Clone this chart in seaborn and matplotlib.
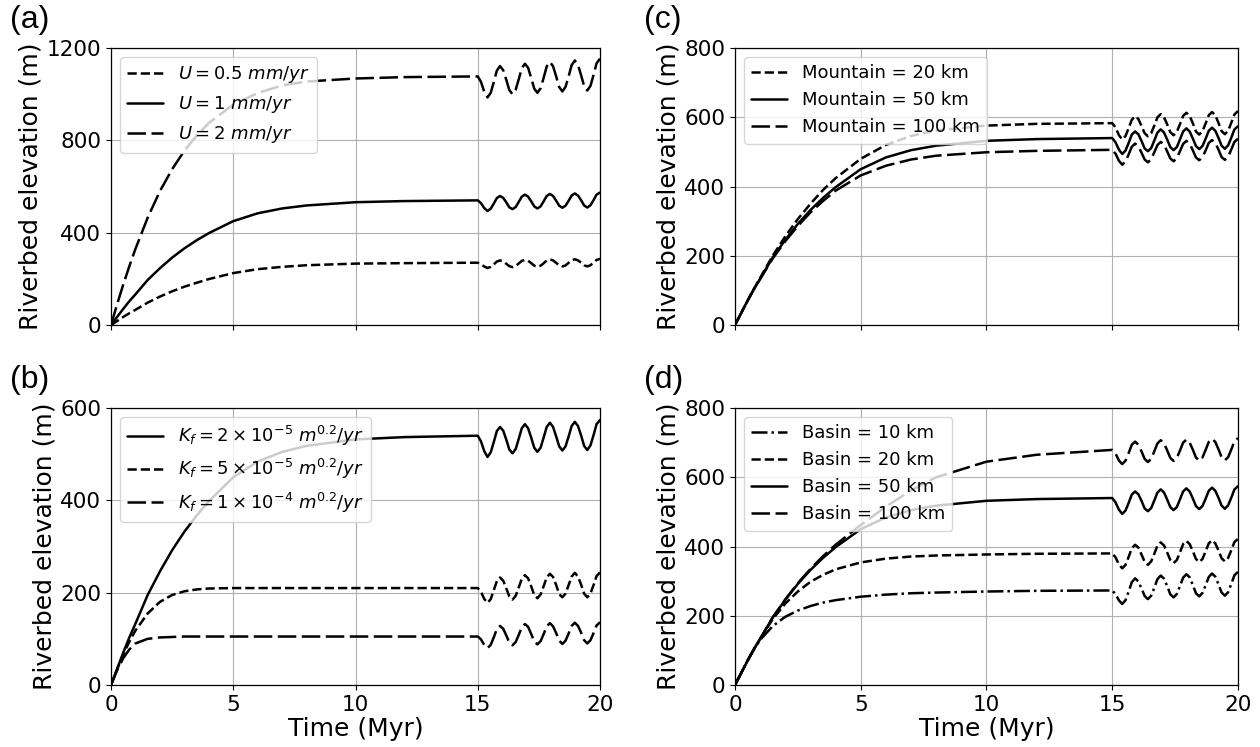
import matplotlib
matplotlib.use("Agg")
import matplotlib.pyplot as plt
import seaborn as sns

# time samples (Myr): growth phase, then the oscillating phase after 15 Myr
t_rise = [0, 0.25, 0.5, 0.75, 1, 1.5, 2, 2.5, 3, 3.5, 4, 5, 6, 7, 8, 10, 12, 15]
t_osc = [15.13, 15.27, 15.40, 15.53, 15.66, 15.78, 15.91, 16.04, 16.17, 16.29,
         16.42, 16.55, 16.68, 16.80, 16.93, 17.06, 17.19, 17.31, 17.44, 17.57,
         17.70, 17.82, 17.95, 18.08, 18.21, 18.33, 18.46, 18.59, 18.72, 18.84,
         18.97, 19.10, 19.23, 19.35, 19.48, 19.61, 19.74, 19.86, 20.00]

# reference run (U = 1 mm/yr, Kf = 2e-5, mountain 50 km, basin 50 km)
ref_rise = [0, 35, 70, 103, 133, 195, 246, 292, 332, 367, 398, 450, 484, 505, 518, 532, 537, 540]
ref_osc = [528, 506, 494, 504, 527, 550, 559, 551, 531, 510, 502, 511, 534, 556, 565, 556,
           535, 514, 505, 514, 537, 559, 568, 559, 538, 517, 508, 517, 539, 561, 570, 561,
           540, 518, 509, 519, 542, 565, 574]

# (a) uplift rate
u05_rise = [0, 17, 35, 51, 66, 97, 123, 146, 166, 183, 199, 225, 242, 252, 259, 266, 268, 270]
u05_osc = [264, 253, 247, 252, 263, 275, 280, 276, 265, 255, 251, 256, 267, 278, 282, 278,
           268, 257, 252, 257, 268, 280, 284, 280, 269, 258, 254, 258, 270, 280, 285, 280,
           270, 259, 254, 259, 271, 282, 287]
u2_rise = [0, 90, 175, 255, 330, 465, 580, 675, 755, 820, 875, 955, 1005, 1038, 1055, 1068, 1074, 1077]
u2_osc = [1054, 1009, 986, 1006, 1054, 1102, 1122, 1104, 1061, 1018, 1000, 1019, 1066, 1113,
          1132, 1114, 1069, 1024, 1006, 1026, 1073, 1120, 1140, 1121, 1076, 1031, 1012, 1032,
          1079, 1126, 1146, 1127, 1081, 1035, 1016, 1036, 1085, 1134, 1154]

# (b) erodibility
kf5_rise = [0, 34, 66, 94, 118, 155, 180, 195, 203, 207, 209, 210, 210, 210, 210, 210, 210, 210]
kf5_osc = [202, 186, 178, 186, 206, 225, 233, 226, 209, 192, 185, 193, 212, 230, 238, 231,
           213, 195, 188, 196, 215, 233, 241, 234, 216, 197, 190, 198, 217, 235, 243, 235,
           217, 198, 190, 198, 217, 236, 244]
kf10_rise = [0, 32, 58, 77, 90, 100, 103, 104, 105, 105, 105, 105, 105, 105, 105, 105, 105, 105]
kf10_osc = [99, 86, 80, 87, 104, 121, 128, 122, 107, 92, 86, 93, 109, 125, 132, 126,
            110, 94, 88, 95, 111, 127, 134, 127, 112, 96, 89, 96, 112, 128, 135, 128,
            113, 97, 90, 97, 113, 129, 136]

# (c) mountain length
m20_rise = [0, 35, 70, 104, 136, 200, 256, 306, 350, 390, 424, 480, 520, 546, 562, 576, 581, 583]
m20_osc = [571, 548, 536, 546, 570, 593, 603, 595, 574, 554, 545, 554, 577, 600, 609, 600,
           579, 557, 548, 558, 581, 604, 613, 604, 582, 559, 550, 560, 583, 606, 615, 606,
           583, 560, 551, 561, 585, 608, 618]
m100_rise = [0, 35, 70, 103, 133, 192, 242, 286, 325, 358, 388, 432, 460, 478, 489, 499, 503, 506]
m100_osc = [495, 474, 463, 472, 494, 515, 524, 516, 497, 478, 470, 479, 500, 520, 529, 521,
            501, 481, 473, 482, 503, 523, 532, 524, 504, 484, 476, 485, 505, 526, 534, 526,
            506, 485, 477, 486, 508, 529, 538]

# (d) basin length
b10_rise = [0, 35, 70, 103, 130, 170, 197, 215, 228, 238, 245, 255, 261, 265, 267, 270, 272, 273]
b10_osc = [263, 244, 234, 245, 271, 297, 308, 299, 278, 257, 248, 258, 282, 306, 316, 307,
           285, 262, 253, 263, 287, 310, 320, 311, 288, 265, 256, 266, 289, 312, 322, 313,
           290, 267, 258, 268, 293, 317, 327]
b20_rise = [0, 35, 70, 103, 133, 190, 235, 270, 298, 318, 334, 354, 365, 371, 374, 377, 379, 380]
b20_osc = [369, 348, 337, 347, 371, 395, 405, 397, 376, 356, 347, 357, 380, 403, 412, 403,
           382, 361, 352, 361, 384, 407, 416, 407, 386, 364, 355, 364, 387, 409, 418, 409,
           388, 366, 357, 367, 390, 413, 422]
b100_rise = [0, 35, 70, 103, 133, 195, 247, 294, 335, 372, 405, 462, 515, 562, 600, 645, 665, 679]
b100_osc = [669, 648, 638, 648, 671, 694, 703, 694, 674, 653, 644, 653, 676, 698, 707, 698,
            677, 656, 647, 656, 678, 700, 709, 700, 679, 657, 648, 657, 680, 702, 711, 702,
            680, 658, 649, 658, 681, 704, 713]

SOLID = "-"
DASH = (0, (3.7, 1.6))
LONG = (0, (7.4, 2.2))
DASHDOT = (0, (6.4, 1.6, 1, 1.6))

sns.set_style("ticks")
plt.rcParams["font.family"] = ["DejaVu Sans"]
plt.rcParams["text.color"] = "black"
plt.rcParams["axes.labelcolor"] = "black"
plt.rcParams["xtick.color"] = "black"
plt.rcParams["ytick.color"] = "black"
plt.rcParams["axes.edgecolor"] = "black"


def draw(ax, rise, osc, label, style):
    sns.lineplot(x=t_rise + t_osc, y=rise + osc, ax=ax, color="black",
                 lw=1.8, linestyle=style, label=label)


fig = plt.figure(figsize=(12.6, 7.47), dpi=100)
ax_a = fig.add_axes([0.0881, 0.5649, 0.3881, 0.3708])
ax_c = fig.add_axes([0.5833, 0.5649, 0.3992, 0.3708])
ax_b = fig.add_axes([0.0881, 0.0830, 0.3881, 0.3708])
ax_d = fig.add_axes([0.5833, 0.0830, 0.3992, 0.3708])

draw(ax_a, u05_rise, u05_osc, r"$U = 0.5\ mm/yr$", DASH)
draw(ax_a, ref_rise, ref_osc, r"$U = 1\ mm/yr$", SOLID)
draw(ax_a, u2_rise, u2_osc, r"$U = 2\ mm/yr$", LONG)

draw(ax_b, ref_rise, ref_osc, r"$K_f = 2 \times 10^{-5}\ m^{0.2}/yr$", SOLID)
draw(ax_b, kf5_rise, kf5_osc, r"$K_f = 5 \times 10^{-5}\ m^{0.2}/yr$", DASH)
draw(ax_b, kf10_rise, kf10_osc, r"$K_f = 1 \times 10^{-4}\ m^{0.2}/yr$", LONG)

draw(ax_c, m20_rise, m20_osc, "Mountain = 20 km", DASH)
draw(ax_c, ref_rise, ref_osc, "Mountain = 50 km", SOLID)
draw(ax_c, m100_rise, m100_osc, "Mountain = 100 km", LONG)

draw(ax_d, b10_rise, b10_osc, "Basin = 10 km", DASHDOT)
draw(ax_d, b20_rise, b20_osc, "Basin = 20 km", DASH)
draw(ax_d, ref_rise, ref_osc, "Basin = 50 km", SOLID)
draw(ax_d, b100_rise, b100_osc, "Basin = 100 km", LONG)

limits = {ax_a: (1200, 400), ax_b: (600, 200), ax_c: (800, 200), ax_d: (800, 200)}
for ax, (top, step) in limits.items():
    ax.set_xlim(0, 20)
    ax.set_ylim(0, top)
    ax.set_xticks([0, 5, 10, 15, 20])
    ax.set_yticks(list(range(0, top + 1, step)))
    ax.grid(True, color="#b0b0b0", lw=0.8)
    ax.set_axisbelow(True)
    for sp in ax.spines.values():
        sp.set_visible(True)
        sp.set_linewidth(0.9)
        sp.set_color("black")
    ax.tick_params(labelsize=15.5, direction="out", length=3.5, width=0.8)
    ax.set_ylabel("Riverbed elevation (m)", fontsize=18, labelpad=3)
    ax.legend(loc="upper left", fontsize=13, framealpha=0.8, edgecolor="0.8",
              fancybox=True, handlelength=2.0)

for ax in (ax_a, ax_c):
    ax.tick_params(labelbottom=False)
    ax.set_xlabel("")
for ax in (ax_b, ax_d):
    ax.set_xlabel("Time (Myr)", fontsize=18, labelpad=2)

fig.align_ylabels([ax_a, ax_b])
fig.align_ylabels([ax_c, ax_d])

panel_font = ["Liberation Sans", "DejaVu Sans"]
fig.text(10 / 1260, 1 - 5 / 747, "(a)", fontsize=23, va="top", family=panel_font)
fig.text(644 / 1260, 1 - 5 / 747, "(c)", fontsize=23, va="top", family=panel_font)
fig.text(10 / 1260, 1 - 365 / 747, "(b)", fontsize=23, va="top", family=panel_font)
fig.text(644 / 1260, 1 - 365 / 747, "(d)", fontsize=23, va="top", family=panel_font)

fig.savefig("out.png", dpi=100)
